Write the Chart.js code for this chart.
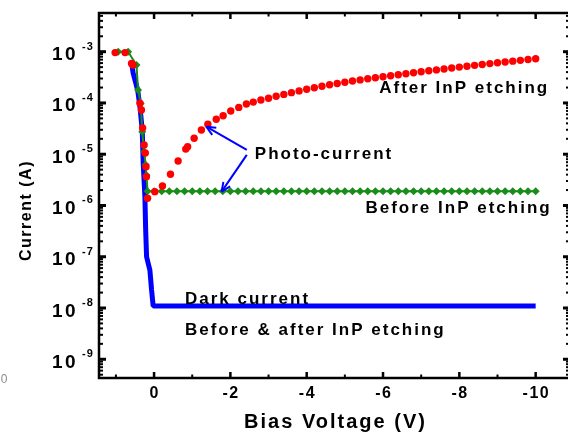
<!DOCTYPE html>
<html><head><meta charset="utf-8">
<script src="https://cdn.jsdelivr.net/npm/chart.js@4/dist/chart.umd.min.js"></script>
<style>
html,body{margin:0;padding:0;background:#fff;overflow:hidden;}
#wrap{width:568px;height:438px;overflow:hidden;position:relative;background:#fff;}
canvas{display:block;}
</style></head><body>
<div id="wrap"><canvas id="c" width="574" height="438"></canvas></div>
<script>
// ---- data (bias voltage in V, current in A) ----
const redV = [1.02,0.76,0.59,0.55,0.37,0.33,0.30,0.26,0.23,0.21,0.20,0.17,-0.02,-0.22,-0.43,-0.63,-0.83,-0.88,-1.05,-1.24,-1.41,-1.63,-1.81,-2.01,-2.22,-2.42,
  -2.6,-2.8,-3,-3.2,-3.4,-3.6,-3.8,-4,-4.2,-4.4,-4.6,-4.8,-5,-5.2,-5.4,-5.6,-5.8,-6,-6.2,-6.4,-6.6,-6.8,-7,-7.2,-7.4,-7.6,-7.8,-8,-8.2,-8.4,-8.6,-8.8,-9,-9.2,-9.4,-9.6,-9.8,-10];
const redI = [9.6e-4,9.6e-4,5.9e-4,5.5e-4,9.9e-5,7.3e-5,3.25e-5,1.51e-5,1.06e-5,5.7e-6,3.65e-6,1.38e-6,1.86e-6,2.4e-6,4.07e-6,7.4e-6,1.26e-5,1.4e-5,2.05e-5,2.97e-5,3.84e-5,4.8e-5,5.65e-5,6.97e-5,8.2e-5,9.55e-5,
  1.04e-4,1.14e-4,1.24e-4,1.35e-4,1.47e-4,1.59e-4,1.72e-4,1.85e-4,1.98e-4,2.12e-4,2.26e-4,2.40e-4,2.54e-4,2.68e-4,2.82e-4,2.96e-4,3.10e-4,3.25e-4,3.40e-4,3.56e-4,3.72e-4,3.89e-4,4.06e-4,4.24e-4,4.42e-4,4.61e-4,4.81e-4,5.01e-4,5.21e-4,5.42e-4,5.64e-4,5.86e-4,6.07e-4,6.31e-4,6.55e-4,6.78e-4,7.03e-4,7.28e-4];

const greenV = [0.94,0.68,0.46,0.42,0.35,0.31,0.26,0.22,0.20,0.17,
  0,-0.2,-0.4,-0.6,-0.8,-1,-1.2,-1.4,-1.6,-1.8,-2,-2.2,-2.4,-2.6,-2.8,-3,-3.2,-3.4,-3.6,-3.8,-4,-4.2,-4.4,-4.6,-4.8,-5,-5.2,-5.4,-5.6,-5.8,-6,-6.2,-6.4,-6.6,-6.8,-7,-7.2,-7.4,-7.6,-7.8,-8,-8.2,-8.4,-8.6,-8.8,-9,-9.2,-9.4,-9.6,-9.8,-10];
const greenI = [1.0e-3,1.0e-3,5.5e-4,1.8e-4,9.8e-5,2.75e-5,1.12e-5,6.2e-6,3.9e-6,1.9e-6,
  1.9e-6,1.9e-6,1.9e-6,1.9e-6,1.9e-6,1.9e-6,1.9e-6,1.9e-6,1.9e-6,1.9e-6,1.9e-6,1.9e-6,1.9e-6,1.9e-6,1.9e-6,1.9e-6,1.9e-6,1.9e-6,1.9e-6,1.9e-6,1.9e-6,1.9e-6,1.9e-6,1.9e-6,1.9e-6,1.9e-6,1.9e-6,1.9e-6,1.9e-6,1.9e-6,1.9e-6,1.9e-6,1.9e-6,1.9e-6,1.9e-6,1.9e-6,1.9e-6,1.9e-6,1.9e-6,1.9e-6,1.9e-6,1.9e-6,1.9e-6,1.9e-6,1.9e-6,1.9e-6,1.9e-6,1.9e-6,1.9e-6,1.9e-6,1.9e-6];

const darkV = [0.58,0.55,0.43,0.37,0.31,0.285,0.24,0.22,0.196,0.11,0.065,0.024,
  0,-0.2,-0.4,-0.6,-0.8,-1,-1.2,-1.4,-1.6,-1.8,-2,-2.2,-2.4,-2.6,-2.8,-3,-3.2,-3.4,-3.6,-3.8,-4,-4.2,-4.4,-4.6,-4.8,-5,-5.2,-5.4,-5.6,-5.8,-6,-6.2,-6.4,-6.6,-6.8,-7,-7.2,-7.4,-7.6,-7.8,-8,-8.2,-8.4,-8.6,-8.8,-9,-9.2,-9.4,-9.6,-9.8,-10];
const darkI = [5.6e-4,3.85e-4,1.79e-4,8.45e-5,2.97e-5,6.75e-6,1.49e-6,3.33e-7,1.0e-7,5.5e-8,2.25e-8,1.1e-8,
  1.1e-8,1.1e-8,1.1e-8,1.1e-8,1.1e-8,1.1e-8,1.1e-8,1.1e-8,1.1e-8,1.1e-8,1.1e-8,1.1e-8,1.1e-8,1.1e-8,1.1e-8,1.1e-8,1.1e-8,1.1e-8,1.1e-8,1.1e-8,1.1e-8,1.1e-8,1.1e-8,1.1e-8,1.1e-8,1.1e-8,1.1e-8,1.1e-8,1.1e-8,1.1e-8,1.1e-8,1.1e-8,1.1e-8,1.1e-8,1.1e-8,1.1e-8,1.1e-8,1.1e-8,1.1e-8,1.1e-8,1.1e-8,1.1e-8,1.1e-8,1.1e-8,1.1e-8,1.1e-8,1.1e-8,1.1e-8,1.1e-8,1.1e-8,1.1e-8];

// ---- axes / tick labels ----
const xMajorTicks = [0,-2,-4,-6,-8,-10];
const xMinorTicks = [1,-1,-3,-5,-7,-9];
const xTickLabels = ['0','-2','-4','-6','-8','-10'];
const yExponents = [-3,-4,-5,-6,-7,-8,-9];
const yExpLabels = ['-3','-4','-5','-6','-7','-8','-9'];
const yMinorMult = [2,3,4,5,6,7,8,9];
const yDecades = [-10,-9,-8,-7,-6,-5,-4,-3];
const xTitle = 'Bias Voltage (V)';
const yTitle = 'Current (A)';

// ---- annotations (data coordinates: V, A) ----
const noteTexts = ['After InP etching','Photo-current','Before InP etching','Dark current','Before & after InP etching'];
const noteV = [-5.90,-2.64,-5.54,-0.81,-0.81];
const noteI = [1.60e-4,7.9e-6,7.0e-7,1.2e-8,2.92e-9];
const arrowFrom = [[-2.43,1.21e-5],[-2.43,9.7e-6]];
const arrowTo = [[-1.37,3.44e-5],[-1.77,1.86e-6]];

const FONT = "'Liberation Sans', Arial, Helvetica, sans-serif";
const zip = (a,b)=>a.map((v,i)=>({x:v,y:b[i]}));

function drawText(ctx,s,x,y,font,align,base,spacing,color){
  ctx.save();
  ctx.font=font; ctx.fillStyle=color||'#000'; ctx.textAlign=align; ctx.textBaseline=base;
  if('letterSpacing' in ctx) ctx.letterSpacing=(spacing||0)+'px';
  ctx.fillText(s,x,y);
  ctx.restore();
}
function seg(ctx,x1,y1,x2,y2,w,c){
  ctx.save(); ctx.beginPath(); ctx.lineWidth=w; ctx.strokeStyle=c||'#000';
  ctx.moveTo(x1,y1); ctx.lineTo(x2,y2); ctx.stroke(); ctx.restore();
}

const deco = {
  id:'deco',
  afterDraw(chart){
    const ctx=chart.ctx, a=chart.chartArea, xs=chart.scales.x, ys=chart.scales.y;
    xMajorTicks.forEach(v=>{const p=xs.getPixelForValue(v);
      seg(ctx,p,a.bottom,p,a.bottom-6,2.5); seg(ctx,p,a.top,p,a.top+6,2.5);});
    xMinorTicks.forEach(v=>{const p=xs.getPixelForValue(v);
      seg(ctx,p,a.bottom,p,a.bottom-3.5,2); seg(ctx,p,a.top,p,a.top+3.5,2);});
    yExponents.forEach(e=>{const p=ys.getPixelForValue(Math.pow(10,e));
      seg(ctx,a.left,p,a.left+7,p,3); seg(ctx,a.right,p,a.right-7,p,3);});
    yDecades.forEach(e=>yMinorMult.forEach(m=>{const v=m*Math.pow(10,e);
      if(v<ys.min||v>ys.max) return; const p=ys.getPixelForValue(v);
      seg(ctx,a.left,p,a.left+4,p,2); seg(ctx,a.right,p,a.right-4,p,2);}));
    ctx.save(); ctx.lineWidth=2.5; ctx.strokeStyle='#000';
    ctx.strokeRect(a.left,a.top,a.right-a.left,a.bottom-a.top); ctx.restore();
    xMajorTicks.forEach((v,i)=>{const p=xs.getPixelForValue(v);
      drawText(ctx,xTickLabels[i],p+0.75,a.bottom+20,'bold 16px '+FONT,'center','alphabetic',1.5);});
    yExponents.forEach((e,i)=>{const p=ys.getPixelForValue(Math.pow(10,e));
      drawText(ctx,'10',a.left-47,p+8.5,'bold 19px '+FONT,'left','alphabetic',2.5);
      drawText(ctx,yExpLabels[i],a.left-17,p-2,'bold 11px '+FONT,'left','alphabetic',1);});
    drawText(ctx,xTitle,(a.left+a.right)/2+1,a.bottom+50,'bold 20px '+FONT,'center','alphabetic',2);
    ctx.save(); ctx.translate(27,(a.top+a.bottom)/2+15); ctx.rotate(-Math.PI/2);
    drawText(ctx,yTitle,0,0,'bold 16px '+FONT,'center','middle',1.5); ctx.restore();
    noteTexts.forEach((t,i)=>{
      drawText(ctx,t,xs.getPixelForValue(noteV[i]),ys.getPixelForValue(noteI[i]),'bold 17px '+FONT,'left','alphabetic',2);});
    arrowFrom.forEach((f,i)=>{
      const x1=xs.getPixelForValue(f[0]), y1=ys.getPixelForValue(f[1]);
      const x2=xs.getPixelForValue(arrowTo[i][0]), y2=ys.getPixelForValue(arrowTo[i][1]);
      seg(ctx,x1,y1,x2,y2,2,'#0000ff');
      const ang=Math.atan2(y1-y2,x1-x2), L=10, s=0.42;
      seg(ctx,x2,y2,x2+L*Math.cos(ang+s),y2+L*Math.sin(ang+s),2,'#0000ff');
      seg(ctx,x2,y2,x2+L*Math.cos(ang-s),y2+L*Math.sin(ang-s),2,'#0000ff');
    });
    drawText(ctx,'0',4,383,'12px '+FONT,'center','alphabetic',0,'#8c8c8c');
  }
};

new Chart(document.getElementById('c'),{
  type:'line',
  data:{datasets:[
    {label:'After InP etching (photo-current)',data:zip(redV,redI),showLine:false,
     pointRadius:3.7,pointStyle:'circle',pointBackgroundColor:'#ff0000',pointBorderColor:'#ff0000',pointBorderWidth:0,borderColor:'#ff0000',order:1},
    {label:'Before InP etching (photo-current)',data:zip(greenV,greenI),borderColor:'#1a8c1a',borderWidth:2,tension:0,
     pointStyle:'rectRot',pointRadius:4,pointBackgroundColor:'#1a8c1a',pointBorderColor:'#1a8c1a',pointBorderWidth:0,order:2},
    {label:'Dark current',data:zip(darkV,darkI),borderColor:'#0000ff',borderWidth:5,tension:0,borderJoinStyle:'bevel',
     pointRadius:0,order:3}
  ]},
  options:{
    responsive:false,devicePixelRatio:1,animation:false,
    layout:{padding:{top:13,right:3,left:0,bottom:0}},
    plugins:{legend:{display:false},tooltip:{enabled:false}},
    scales:{
      x:{type:'linear',reverse:true,min:-10.9,max:1.443,
         ticks:{display:false},grid:{display:false},border:{display:false},
         afterFit(s){s.height=60;}},
      y:{type:'logarithmic',min:4.31e-10,max:5.69e-3,
         ticks:{display:false},grid:{display:false},border:{display:false},
         afterFit(s){s.width=99;}}
    }
  },
  plugins:[deco]
});
</script>
</body></html>
